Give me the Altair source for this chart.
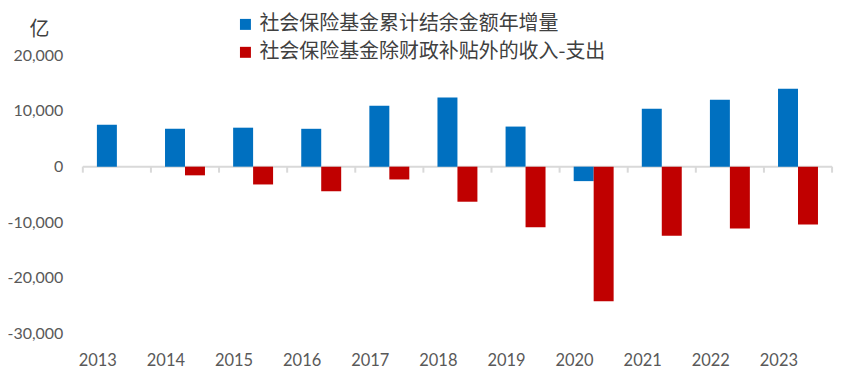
import altair as alt
import pandas as pd

years = [str(y) for y in range(2013, 2024)]
series_names = ["社会保险基金累计结余金额年增量", "社会保险基金除财政补贴外的收入-支出"]
balance_increase = [7540, 6800, 7000, 6800, 10950, 12400, 7200, -2600, 10400, 12000, 14000]
net_income = [0, -1560, -3200, -4400, -2300, -6300, -10900, -24200, -12400, -11100, -10400]
colors = ["#0070C0", "#C00000"]
y_ticks = [-30000, -20000, -10000, 0, 10000, 20000]

rows = []
for i, y in enumerate(years):
    rows.append({"year": y, "series": series_names[0], "value": balance_increase[i]})
    rows.append({"year": y, "series": series_names[1], "value": net_income[i]})
df = pd.DataFrame(rows)

W, H = 751, 279
x_scale = alt.Scale(domain=years, paddingInner=0, paddingOuter=0)
y_scale = alt.Scale(domain=[-30000, 20000], nice=False)

bars = alt.Chart(df).mark_bar().encode(
    x=alt.X("year:N", scale=x_scale, sort=years, title=None,
            axis=alt.Axis(domain=False, ticks=False, labelAngle=0, labelFont="Lato",
                          labelFontSize=16.5, labelColor="#595959", labelPadding=27)),
    xOffset=alt.XOffset("series:N", sort=series_names,
                        scale=alt.Scale(domain=series_names, paddingInner=0, paddingOuter=0.705)),
    y=alt.Y("value:Q", scale=y_scale,
            axis=alt.Axis(values=y_ticks, format=",d",
                          labelExpr="replace(datum.label, '\u2212', '-')",
                          domain=False, ticks=False, grid=False,
                          labelFont="Lato", labelFontSize=16, labelColor="#595959",
                          labelPadding=20, title="亿", titleAngle=0, titleX=-44, titleY=-26,
                          titleAlign="center", titleBaseline="middle", titleFont="Noto Sans CJK SC",
                          titleFontSize=20, titleFontWeight="normal", titleColor="#404040")),
    color=alt.Color("series:N", sort=series_names,
                    scale=alt.Scale(domain=series_names, range=colors),
                    legend=alt.Legend(title=None, orient="none", legendX=153, legendY=-41,
                                      direction="vertical", symbolType="square", symbolSize=121,
                                      symbolStrokeWidth=0, labelFont="Noto Sans CJK SC",
                                      labelFontSize=20, labelColor="#404040", rowPadding=8,
                                      labelOffset=4, labelLimit=600)),
)

zero_df = pd.DataFrame({"value": [0]})
zero_line = alt.Chart(zero_df).mark_rule(color="#d9d9d9", strokeWidth=2).encode(
    y=alt.Y("value:Q", scale=y_scale),
    x=alt.value(0),
    x2=alt.value(W),
)

tick_df = pd.DataFrame({"year": years, "value": [0] * len(years), "low": [-1080] * len(years)})
ticks = alt.Chart(tick_df).mark_rule(color="#d9d9d9", strokeWidth=2).encode(
    x=alt.X("year:N", scale=x_scale, sort=years, bandPosition=0),
    y=alt.Y("value:Q", scale=y_scale),
    y2="low:Q",
)
end_tick = alt.Chart(tick_df.tail(1)).mark_rule(color="#d9d9d9", strokeWidth=2).encode(
    x=alt.X("year:N", scale=x_scale, sort=years, bandPosition=1),
    y=alt.Y("value:Q", scale=y_scale),
    y2="low:Q",
)

chart = alt.layer(zero_line, ticks, end_tick, bars).properties(
    width=W, height=H, autosize="none",
    padding={"left": 75, "top": 47, "right": 25, "bottom": 35},
).configure_view(stroke=None)

chart.save("out.html", embed_options={"renderer": "svg", "actions": False})
